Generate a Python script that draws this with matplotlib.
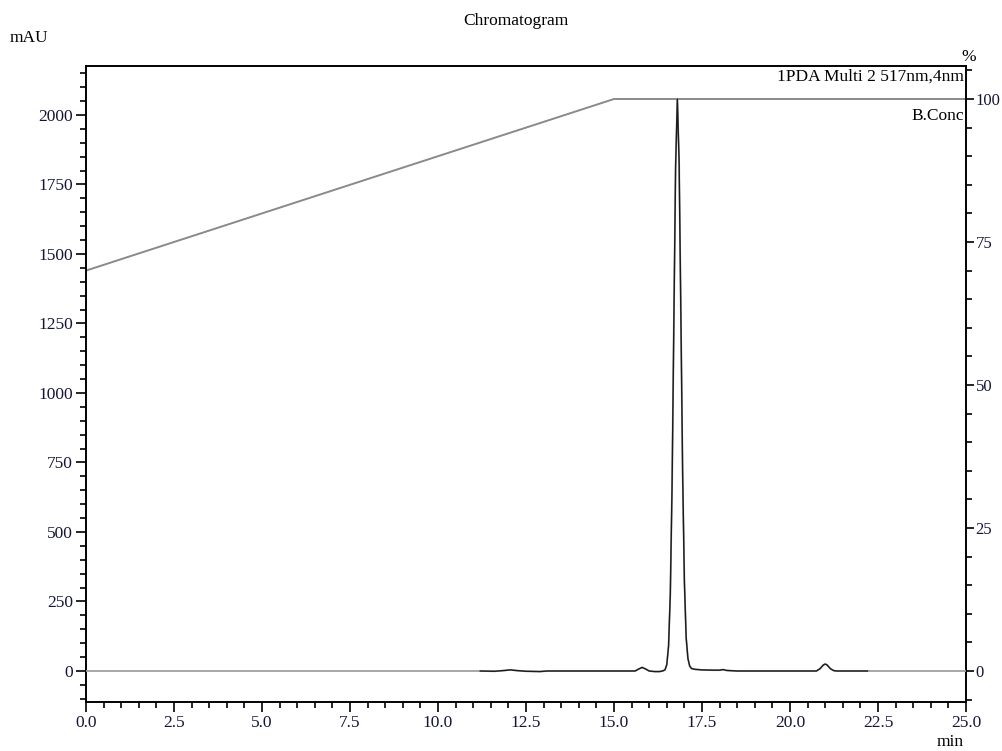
import matplotlib
matplotlib.use("Agg")
import matplotlib.pyplot as plt
from matplotlib.ticker import MultipleLocator, FormatStrFormatter

plt.rcParams['font.family'] = ['Liberation Serif', 'DejaVu Serif']

# ---- data ----
trace_time = [0.0, 2.9, 11.2, 11.6, 11.9, 12.05, 12.2, 12.5, 12.9, 13.1, 15.4,
              15.6, 15.7, 15.8, 15.9, 16.0, 16.15, 16.3, 16.4, 16.45, 16.5, 16.55,
              16.6, 16.65, 16.7, 16.75, 16.8, 16.85, 16.9, 16.95, 17.0, 17.05,
              17.1, 17.15, 17.2, 17.3, 17.5, 17.8, 18.0, 18.1, 18.2, 18.5, 19.0,
              19.2, 20.75, 20.85, 20.95, 21.0, 21.05, 21.15, 21.25, 21.35, 22.2, 25.0]
trace_mau = [0, 0, 0, -1, 2, 4, 2, -1, -2, 0, 0,
             0, 7, 13, 7, 0, -2, -2, 1, 4.5, 23, 90,
             278, 668, 1248, 1815, 2057, 1830, 1280, 710, 320, 120,
             45, 18, 9, 6, 4, 3, 3, 5, 2, 0, 0,
             0, 0, 8, 22, 25, 22, 8, 1, 0, 0, 0]

grad_time = [0.0, 15.0, 25.0]
grad_conc = [70.0, 100.0, 100.0]

dark_start, dark_end = 11.2, 22.2

# ---- figure ----
fig = plt.figure(figsize=(10.02, 7.51), dpi=100)
ax = fig.add_axes([86/1002, 49/751, 880/1002, 636/751])
ax2 = ax.twinx()

ax.set_xlim(0, 25)
ax.set_ylim(-111.5, 2176)
ax2.set_ylim(-5.42, 105.77)

# gradient
ax2.plot(grad_time, grad_conc, color='#8a8a8a', lw=1.4, zorder=2)

# trace: light baseline everywhere, dark in active region
ax.plot(trace_time, trace_mau, color='#a0a0a0', lw=1.3, zorder=3)
dt = [t for t in trace_time if dark_start <= t <= dark_end]
dm = [m for t, m in zip(trace_time, trace_mau) if dark_start <= t <= dark_end]
ax.plot(dt, dm, color='#1a1a1a', lw=1.0, zorder=4)
ax.set_zorder(ax2.get_zorder() + 1)
ax.patch.set_visible(False)

tick_color = '#15153a'
fs = 12.5
for a in (ax, ax2):
    for s in a.spines.values():
        s.set_linewidth(1.2)
        s.set_color('black')

ax.xaxis.set_major_locator(MultipleLocator(2.5))
ax.xaxis.set_minor_locator(MultipleLocator(0.5))
ax.xaxis.set_major_formatter(FormatStrFormatter('%.1f'))
ax.yaxis.set_major_locator(MultipleLocator(250))
ax.yaxis.set_minor_locator(MultipleLocator(50))
ax2.yaxis.set_major_locator(MultipleLocator(25))
ax2.yaxis.set_minor_locator(MultipleLocator(5))

ax.tick_params(axis='both', which='major', direction='out', length=7, width=1.2,
               labelsize=fs, labelcolor=tick_color, pad=2.5)
ax.tick_params(axis='both', which='minor', direction='out', length=4.5, width=1.2)
ax2.tick_params(axis='y', which='major', direction='out', length=6, width=1.2,
                labelsize=12, labelcolor=tick_color, pad=1)
ax2.tick_params(axis='y', which='minor', direction='out', length=4.5, width=1.2)

# texts
fig.text(516/1002, 1 - 21/751, 'Chromatogram', ha='center', va='center', fontsize=fs)
fig.text(10/1002, 1 - 38/751, 'mAU', ha='left', va='center', fontsize=fs)
fig.text(969/1002, 1 - 57/751, '%', ha='center', va='center', fontsize=fs)
fig.text(950/1002, 1 - 742/751, 'min', ha='center', va='center', fontsize=fs)
ax.text(0.998, (702 - 77) / 636, '1PDA Multi 2 517nm,4nm', transform=ax.transAxes,
        ha='right', va='center', fontsize=fs)
ax.text(0.998, (702 - 116) / 636, 'B.Conc', transform=ax.transAxes,
        ha='right', va='center', fontsize=fs)

fig.savefig('out.png', dpi=100)
